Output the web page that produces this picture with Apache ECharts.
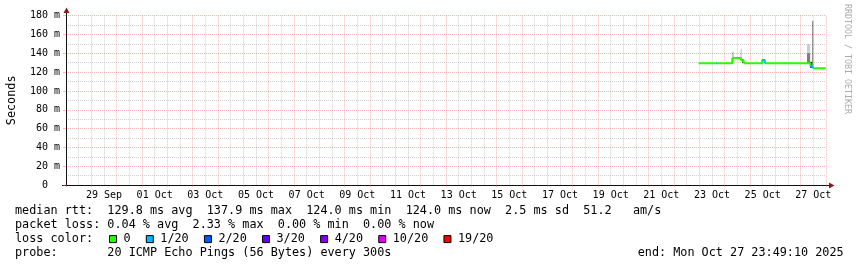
<!DOCTYPE html>
<html><head><meta charset="utf-8">
<script src="https://cdn.jsdelivr.net/npm/echarts@6/dist/echarts.min.js"></script>
<style>html,body{margin:0;padding:0;background:#fff}#c{width:857px;height:267px}</style>
</head><body><div id="c"></div>
<script>
// ---------- data ----------
const xStart = '2025-09-28 00:00';
const xEnd = '2025-10-28 00:00';
const xTickLabels = ['29 Sep','01 Oct','03 Oct','05 Oct','07 Oct','09 Oct','11 Oct','13 Oct','15 Oct','17 Oct','19 Oct','21 Oct','23 Oct','25 Oct','27 Oct'];
const yTickLabels = ['0  ','20 m','40 m','60 m','80 m','100 m','120 m','140 m','160 m','180 m'];
const lossLabels = ['0','1/20','2/20','3/20','4/20','10/20','19/20'];
const lossColors = ['#26ff00','#00b8ff','#0059ff','#5e00ff','#7e00ff','#dd00ff','#ff0000'];

// median rtt (ms), step changes; loss = index into lossLabels
const medianTimes = ['2025-10-22 23:20','2025-10-23 15:20','2025-10-23 16:40','2025-10-24 07:15','2025-10-24 15:30','2025-10-24 18:00','2025-10-25 11:40','2025-10-25 14:00','2025-10-27 09:10','2025-10-27 11:20','2025-10-27 23:49'];
const medianValues = [129.5, 129.5, 129.5, 135.0, 132.5, 129.5, 133.0, 129.5, 126.5, 124.0, 124.0];
const medianLoss   = [0, 1, 0, 0, 0, 0, 1, 0, 1, 0, 0];

// smoke (ping spread) bands
const smokeStart = ['2025-10-24 06:40','2025-10-24 06:50','2025-10-24 15:00','2025-10-24 16:40','2025-10-25 11:00','2025-10-27 06:00','2025-10-27 06:00','2025-10-27 08:50','2025-10-27 10:50'];
const smokeEnd   = ['2025-10-24 08:50','2025-10-24 07:40','2025-10-24 16:20','2025-10-24 17:50','2025-10-25 12:00','2025-10-27 09:00','2025-10-27 09:00','2025-10-27 10:50','2025-10-27 12:00'];
const smokeLow   = [130.5, 129.5, 134.0, 129.5, 129.5, 140.0, 130.0, 124.5, 126.0];
const smokeHigh  = [141.5, 134.5, 144.5, 134.0, 133.5, 149.5, 140.0, 131.0, 174.5];
const smokePings = [3, 15, 3, 15, 15, 3, 9, 15, 8];

const rttStats = [129.8, 137.9, 124.0, 124.0, 2.5, 51.2];   // avg, max, min, now, sd, am/s
const lossStats = [0.04, 2.33, 0.00, 0.00];                 // avg, max, min, now
const probeText = '20 ICMP Echo Pings (56 Bytes) every 300s';
const endText = 'Mon Oct 27 23:49:10 2025';

// ---------- helpers ----------
const DAY = 86400000;
function ts(s){ const [d,t]=s.split(' '); const [Y,M,D]=d.split('-').map(Number); const [h,m]=t.split(':').map(Number); return Date.UTC(Y,M-1,D,h,m); }
const xMin = ts(xStart), xMax = ts(xEnd);

function lossSeriesData(li){
  const out=[];
  for(let i=0;i<medianTimes.length-1;i++){
    if(medianLoss[i]!==li) continue;
    const t0=ts(medianTimes[i]), t1=ts(medianTimes[i+1]);
    out.push([t0,medianValues[i]],[t1,medianValues[i]],[t1,medianValues[i+1]],null);
  }
  return out;
}
const smokeData = smokeStart.map((s,i)=>[ts(s), ts(smokeEnd[i]), smokeLow[i], smokeHigh[i], smokePings[i]]);

const FONT = 'DejaVu Sans Mono';
const MAJ = 'rgba(240,90,90,0.42)';
const MIN = 'rgba(150,150,150,0.45)';
const LEG = 11.8;
const f1 = v=>v.toFixed(1), f2=v=>v.toFixed(2);
const line1 = 'median rtt:  '+f1(rttStats[0])+' ms avg  '+f1(rttStats[1])+' ms max  '+f1(rttStats[2])+' ms min  '+f1(rttStats[3])+' ms now  '+f1(rttStats[4])+' ms sd  '+f1(rttStats[5])+'   am/s';
const line2 = 'packet loss: '+f2(lossStats[0])+' % avg  '+f2(lossStats[1])+' % max  '+f2(lossStats[2])+' % min  '+f2(lossStats[3])+' % now';
const line4 = 'probe:       '+probeText;

const series = [{
  type:'custom', name:'smoke', silent:true, z:1,
  encode:{x:[0,1], y:[2,3]},
  data: smokeData,
  renderItem(params, api){
    const p0 = api.coord([api.value(0), api.value(3)]);
    const p1 = api.coord([api.value(1), api.value(2)]);
    const a = Math.min(0.85, api.value(4)*0.05+0.05);
    return {type:'rect', shape:{x:p0[0], y:p0[1], width:p1[0]-p0[0], height:p1[1]-p0[1]}, style:{fill:'rgba(0,0,0,'+a+')'}};
  }
}];
lossLabels.forEach((lab,li)=>{
  series.push({type:'line', name:lab, z:3, color:lossColors[li], symbol:'none', showSymbol:false,
    lineStyle:{width:2, color:lossColors[li]}, data: lossSeriesData(li), connectNulls:false, silent:true});
});

const chart = echarts.init(document.getElementById('c'), null, {renderer:'canvas'});
chart.setOption({
  animation:false,
  backgroundColor:'#ffffff',
  textStyle:{fontFamily:FONT},
  grid:{left:66, right:31, top:15.7, bottom:82, containLabel:false, outerBoundsMode:'none'},
  legend:{
    data: lossLabels, left:109, top:233.1, padding:0, orient:'horizontal',
    icon:'rect', itemWidth:7, itemHeight:7, itemGap:15.2, selectedMode:false,
    itemStyle:{borderColor:'#000', borderWidth:1},
    textStyle:{fontFamily:FONT, fontSize:LEG, color:'#000', padding:[0,0,0,2]}
  },
  xAxis:{
    type:'value', min:xMin, max:xMax, interval:DAY,
    axisLine:{show:true, onZero:true, lineStyle:{color:'#111', width:1}},
    axisTick:{show:true, length:2, lineStyle:{color:MAJ}},
    axisLabel:{margin:5, fontSize:10, color:'#000', fontFamily:FONT, padding:[0,0,0,760/30],
      formatter:(v)=>{ const k=Math.round((v-xMin)/DAY); return (k%2===1)? (xTickLabels[(k-1)/2]||'') : ''; }},
    splitLine:{show:true, lineStyle:{color:MAJ, type:[1,1]}},
    minorTick:{show:false, splitNumber:2},
    minorSplitLine:{show:true, lineStyle:{color:MIN, type:[1,1]}}
  },
  yAxis:{
    type:'value', min:0, max:180, interval:20,
    name:'Seconds', nameLocation:'middle', nameGap:54.5, nameRotate:90,
    nameTextStyle:{fontFamily:FONT, fontSize:LEG, color:'#000', verticalAlign:'middle', align:'center'},
    axisLine:{show:true, lineStyle:{color:'#111', width:1}},
    axisTick:{show:true, length:3, lineStyle:{color:MAJ}},
    axisLabel:{margin:6, fontSize:10, color:'#000', fontFamily:FONT,
      formatter:(v)=>yTickLabels[Math.round(v/20)]||''},
    splitLine:{show:true, lineStyle:{color:MAJ, type:[1,1]}},
    minorTick:{show:false, splitNumber:2},
    minorSplitLine:{show:true, lineStyle:{color:MIN, type:[1,1]}}
  },
  graphic:[
    {type:'line', shape:{x1:66.5,y1:16,x2:66.5,y2:12}, style:{stroke:'#111', lineWidth:1}, silent:true},
    {type:'line', shape:{x1:62,y1:185.5,x2:66,y2:185.5}, style:{stroke:'#111', lineWidth:1}, silent:true},
    {type:'line', shape:{x1:826,y1:185.5,x2:830,y2:185.5}, style:{stroke:'#111', lineWidth:1}, silent:true},
    {type:'polygon', shape:{points:[[63.5,13],[69.5,13],[66.5,7.5]]}, style:{fill:'#8b1a1a'}, silent:true},
    {type:'polygon', shape:{points:[[829,182.5],[829,188.5],[834.5,185.5]]}, style:{fill:'#8b1a1a'}, silent:true},
    {type:'text', x:847, y:59, rotation:-Math.PI/2, silent:true,
      style:{text:'RRDTOOL / TOBI OETIKER', fontFamily:FONT, fontSize:8.3, fill:'#ababab', align:'center', verticalAlign:'middle'}},
    {type:'text', x:15, y:211.3, silent:true, style:{text:line1, fontFamily:FONT, fontSize:LEG, fill:'#000', align:'left', verticalAlign:'middle'}},
    {type:'text', x:15, y:225.2, silent:true, style:{text:line2, fontFamily:FONT, fontSize:LEG, fill:'#000', align:'left', verticalAlign:'middle'}},
    {type:'text', x:15, y:239.1, silent:true, style:{text:'loss color:', fontFamily:FONT, fontSize:LEG, fill:'#000', align:'left', verticalAlign:'middle'}},
    {type:'text', x:15, y:253.0, silent:true, style:{text:line4, fontFamily:FONT, fontSize:LEG, fill:'#000', align:'left', verticalAlign:'middle'}},
    {type:'text', x:637.7, y:253.0, silent:true, style:{text:'end: '+endText, fontFamily:FONT, fontSize:LEG, fill:'#000', align:'left', verticalAlign:'middle'}}
  ],
  series: series
});
</script></body></html>
